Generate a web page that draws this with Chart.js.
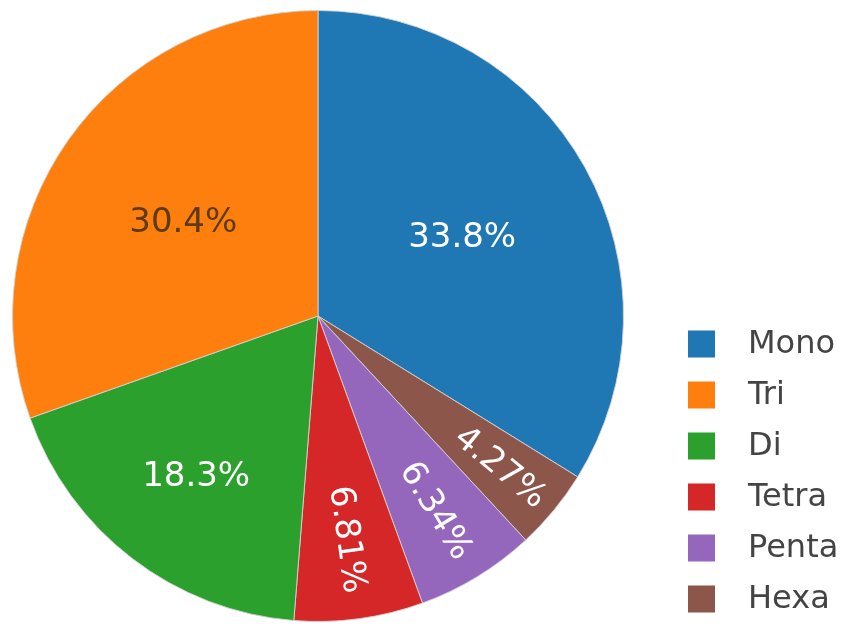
<!DOCTYPE html>
<html>
<head>
<meta charset="utf-8">
<script src="https://cdn.jsdelivr.net/npm/chart.js"></script>
<style>
    html, body { margin: 0; padding: 0; background: #fff; }
    .chart-container { width: 851px; height: 635px; position: relative; }
</style>
</head>
<body>
<div class="chart-container">
    <canvas id="pieChart"></canvas>
</div>
<script>
    // slices in clockwise order starting at 12 o'clock
    var categories = ['Mono', 'Hexa', 'Penta', 'Tetra', 'Di', 'Tri'];
    var shares = [33.8, 4.27, 6.34, 6.81, 18.3, 30.4];
    var sliceColors = ['#1f77b4', '#8c564b', '#9467bd', '#d62728', '#2ca02c', '#ff7f0e'];
    var textColors = ['#ffffff', '#ffffff', '#ffffff', '#ffffff', '#ffffff', '#5e3a17'];
    var legendOrder = ['Mono', 'Tri', 'Di', 'Tetra', 'Penta', 'Hexa'];

    var FONT = '"DejaVu Sans", Verdana, sans-serif';

    // percent text inside each slice, rotated radially for the thin ones
    var sliceText = {
        id: 'sliceText',
        afterDatasetsDraw: function(chart) {
            var ctx = chart.ctx;
            var meta = chart.getDatasetMeta(0);
            var total = shares.reduce(function(a, b) { return a + b; }, 0);
            ctx.save();
            ctx.font = '34px ' + FONT;
            ctx.textAlign = 'center';
            ctx.textBaseline = 'middle';
            meta.data.forEach(function(arc, i) {
                var p = arc.getProps(['x', 'y', 'startAngle', 'endAngle', 'outerRadius'], true);
                var mid = (p.startAngle + p.endAngle) / 2;
                var frac = shares[i] / total;
                var R = p.outerRadius;
                var r, rotate = frac < 0.1;
                if (rotate) r = R * (0.84 - frac * 1.5);
                else if (frac > 0.25) r = R * 0.54;
                else r = R * 0.655;
                var tx = p.x + Math.cos(mid) * r;
                var ty = p.y + Math.sin(mid) * r;
                ctx.fillStyle = textColors[i];
                ctx.save();
                ctx.translate(tx, ty);
                if (rotate) ctx.rotate(mid);
                ctx.fillText(shares[i].toPrecision(3) + '%', 0, 2);
                ctx.restore();
            });
            ctx.restore();
        }
    };

    // legend on the right, bottom aligned
    var sideLegend = {
        id: 'sideLegend',
        afterDraw: function(chart) {
            var ctx = chart.ctx;
            ctx.save();
            ctx.font = '32px ' + FONT;
            ctx.textBaseline = 'middle';
            ctx.textAlign = 'left';
            legendOrder.forEach(function(name, k) {
                var i = chart.data.labels.indexOf(name);
                var cy = 344 + k * 51;
                ctx.fillStyle = chart.data.datasets[0].backgroundColor[i];
                ctx.fillRect(688, cy - 13.5, 27, 27);
                ctx.fillStyle = '#444';
                ctx.fillText(name, 748, cy + 1);
            });
            ctx.restore();
        }
    };

    var chart = new Chart(document.getElementById('pieChart'), {
        type: 'pie',
        data: {
            labels: categories,
            datasets: [{
                data: shares,
                backgroundColor: sliceColors,
                borderColor: 'rgba(210,210,210,0.9)',
                borderWidth: 1
            }]
        },
        options: {
            responsive: true,
            maintainAspectRatio: false,
            animation: false,
            layout: { padding: { left: 12, right: 227, top: 10, bottom: 13 } },
            plugins: {
                legend: { display: false },
                tooltip: { enabled: false }
            }
        },
        plugins: [sliceText, sideLegend]
    });
</script>
</body>
</html>
